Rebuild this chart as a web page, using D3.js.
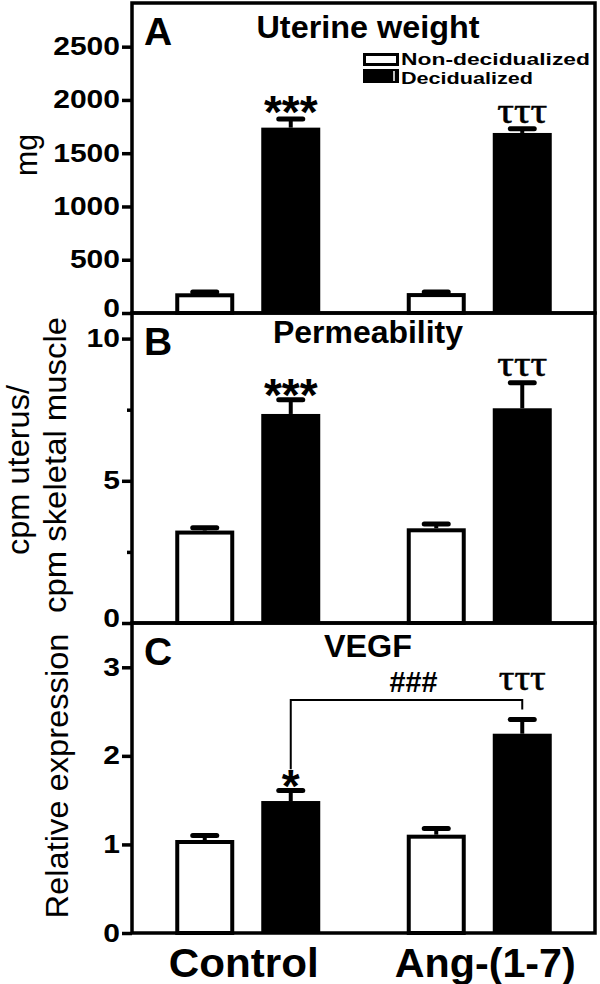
<!DOCTYPE html>
<html><head><meta charset="utf-8">
<script src="https://cdn.jsdelivr.net/npm/d3@7"></script>
<style>body{margin:0;background:#fff} svg{display:block}</style>
</head><body>
<script>
// ---------- data ----------
const groups = ["Control", "Ang-(1-7)"];
const series = ["Non-decidualized", "Decidualized"];

const weightNonDec = [185, 187];
const weightNonDecErr = [12, 10];
const weightDec = [1740, 1690];
const weightDecErr = [80, 40];

const permNonDec = [3.25, 3.33];
const permNonDecErr = [0.1, 0.15];
const permDec = [7.35, 7.55];
const permDecErr = [0.5, 0.9];

const vegfNonDec = [1.05, 1.11];
const vegfNonDecErr = [0.05, 0.07];
const vegfDec = [1.49, 2.25];
const vegfDecErr = [0.12, 0.16];

const weightTicks = [0, 500, 1000, 1500, 2000, 2500];
const permTicks = [0, 5, 10];
const permMinorTicks = [2.5, 7.5];
const vegfTicks = [0, 1, 2, 3];

const panelLetters = ["A", "B", "C"];
const panelTitles = ["Uterine weight", "Permeability", "VEGF"];
const sigWeight = ["***", "τττ"];
const sigPerm = ["***", "τττ"];
const sigVegf = ["*", "τττ"];
const bracketLabel = "###";
const bracketLevel = 2.63;

// ---------- layout ----------
const W = 600, H = 984;
const left = 132, right = 595;
const panelTop = [3, 313, 623];
const panelH = 310;
const SANS = "'Liberation Sans', Arial, sans-serif";
const SERIF = "'Liberation Serif', 'DejaVu Serif', serif";

const svg = d3.select("body").append("svg").attr("width", W).attr("height", H);

const gx = d3.scalePoint().domain(groups).range([left, right]).padding(0.5);
const sx = d3.scaleBand().domain(series).range([-72.5, 72.5]).paddingInner(0.314).paddingOuter(0);

const panels = [
  {max: 2910, ticks: weightTicks, minor: [], nd: weightNonDec, ndE: weightNonDecErr, d: weightDec, dE: weightDecErr, sig: sigWeight, starOff: 9, tauOff: 6},
  {max: 10.9, ticks: permTicks, minor: permMinorTicks, nd: permNonDec, ndE: permNonDecErr, d: permDec, dE: permDecErr, sig: sigPerm, starOff: 11, tauOff: 6.5},
  {max: 3.5, ticks: vegfTicks, minor: [], nd: vegfNonDec, ndE: vegfNonDecErr, d: vegfDec, dE: vegfDecErr, sig: sigVegf, starOff: 12, tauOff: 0}
];

function tau(g, x, y, len) {
  g.append("text").attr("x", x).attr("y", y)
    .attr("text-anchor", "middle").attr("font-family", SERIF)
    .attr("font-size", 36).attr("stroke", "#000").attr("stroke-width", 0.6)
    .attr("textLength", len).attr("lengthAdjust", "spacingAndGlyphs").text("τττ");
}

panels.forEach((p, i) => {
  const top = panelTop[i], bottom = top + panelH;
  const y = d3.scaleLinear().domain([0, p.max]).range([bottom, top]);
  const g = svg.append("g");

  // bars
  groups.forEach((grp, gi) => {
    const cx0 = gx(grp);
    const x0 = cx0 + sx(series[0]);
    const bw = sx.bandwidth();
    g.append("rect").attr("x", x0 + 2).attr("y", y(p.nd[gi]) + 2)
      .attr("width", bw - 4).attr("height", bottom - y(p.nd[gi]) - 2)
      .attr("fill", "#fff").attr("stroke", "#000").attr("stroke-width", 4);
    const x1 = cx0 + sx(series[1]);
    g.append("rect").attr("x", x1).attr("y", y(p.d[gi]))
      .attr("width", bw).attr("height", bottom - y(p.d[gi]))
      .attr("fill", "#000");

    [[x0, p.nd[gi], p.ndE[gi]], [x1, p.d[gi], p.dE[gi]]].forEach(([bx, v, e]) => {
      const c = bx + bw / 2;
      g.append("line").attr("x1", c).attr("x2", c).attr("y1", y(v)).attr("y2", y(v + e))
        .attr("stroke", "#000").attr("stroke-width", 4);
      g.append("line").attr("x1", c - 12).attr("x2", c + 12).attr("y1", y(v + e)).attr("y2", y(v + e))
        .attr("stroke", "#000").attr("stroke-width", 5).attr("stroke-linecap", "round");
    });
  });

  // significance marks
  const cCtl = gx(groups[0]) + sx(series[1]) + sx.bandwidth() / 2;
  const cAng = gx(groups[1]) + sx(series[1]) + sx.bandwidth() / 2;
  const capCtl = y(p.d[0] + p.dE[0]);
  const capAng = y(p.d[1] + p.dE[1]);
  g.append("text").attr("x", cCtl).attr("y", capCtl + p.starOff)
    .attr("text-anchor", "middle").attr("font-family", SANS).attr("font-weight", "bold")
    .attr("font-size", 46).text(p.sig[0]);

  if (i < 2) {
    tau(g, cAng, capAng - p.tauOff, 50);
  } else {
    const by = y(bracketLevel);
    const starTop = capCtl + p.starOff - 0.72 * 46;
    g.append("path")
      .attr("d", `M${cCtl},${starTop}V${by}H${cAng}V${capAng - 10}`)
      .attr("fill", "none").attr("stroke", "#000").attr("stroke-width", 2);
    tau(g, cAng, by - 10, 47);
    g.append("text").attr("x", (cCtl + cAng) / 2 + 7).attr("y", by - 8)
      .attr("text-anchor", "middle").attr("font-family", SANS).attr("font-weight", "bold")
      .attr("font-size", 30).attr("textLength", 48).attr("lengthAdjust", "spacingAndGlyphs").text(bracketLabel);
  }

  // frame
  g.append("rect").attr("x", left).attr("y", top).attr("width", right - left).attr("height", panelH)
    .attr("fill", "none").attr("stroke", "#000").attr("stroke-width", 3.5);

  // axis
  const ax = g.append("g").attr("transform", `translate(${left},0)`)
    .call(d3.axisLeft(y).tickValues(p.ticks).tickSize(10).tickPadding(2).tickFormat(d3.format("d")));
  ax.select(".domain").remove();
  ax.selectAll(".tick line").attr("stroke", "#000").attr("stroke-width", 3.5);
  ax.selectAll(".tick text").attr("font-family", SANS).attr("font-weight", "bold")
    .attr("font-size", 25).attr("fill", "#000")
    .attr("textLength", d => String(d).length * 16.7).attr("lengthAdjust", "spacingAndGlyphs");
  // the bottom "0" of the upper panels sits slightly raised, as in the original
  if (i < 2) ax.selectAll(".tick text").filter(d => d === 0).attr("y", -5);
  if (p.minor.length) {
    const mx = g.append("g").attr("transform", `translate(${left},0)`)
      .call(d3.axisLeft(y).tickValues(p.minor).tickSize(5).tickFormat(""));
    mx.select(".domain").remove();
    mx.selectAll(".tick line").attr("stroke", "#000").attr("stroke-width", 3.5);
  }

  // panel letter
  g.append("text").attr("x", 144).attr("y", top + 42).attr("font-family", SANS)
    .attr("font-weight", "bold").attr("font-size", 39).text(panelLetters[i]);
});

// titles
const titleW = [223, 190, 88];
const titleY = [38, 343, 657];
panelTitles.forEach((t, i) => {
  svg.append("text").attr("x", 368).attr("y", titleY[i]).attr("text-anchor", "middle")
    .attr("font-family", SANS).attr("font-weight", "bold").attr("font-size", 31)
    .attr("textLength", titleW[i]).attr("lengthAdjust", "spacingAndGlyphs").text(t);
});

// legend
const leg = svg.append("g");
leg.append("rect").attr("x", 364.5).attr("y", 54.5).attr("width", 33).attr("height", 10)
  .attr("fill", "#fff").attr("stroke", "#000").attr("stroke-width", 3);
leg.append("rect").attr("x", 363).attr("y", 69).attr("width", 36).attr("height", 14).attr("fill", "#000");
leg.append("line").attr("x1", 394).attr("x2", 394).attr("y1", 71).attr("y2", 81).attr("stroke", "#fff").attr("stroke-width", 1.5);
leg.append("text").attr("x", 401).attr("y", 65).attr("font-family", SANS).attr("font-weight", "bold")
  .attr("font-size", 17).attr("textLength", 189).attr("lengthAdjust", "spacingAndGlyphs").text(series[0]);
leg.append("text").attr("x", 401).attr("y", 84).attr("font-family", SANS).attr("font-weight", "bold")
  .attr("font-size", 17).attr("textLength", 132).attr("lengthAdjust", "spacingAndGlyphs").text(series[1]);

// y-axis titles
function yTitle(txt, x, cy, len) {
  svg.append("text").attr("transform", `translate(${x},${cy}) rotate(-90)`)
    .attr("text-anchor", "middle").attr("font-family", SANS).attr("font-size", 32)
    .attr("textLength", len).attr("lengthAdjust", "spacingAndGlyphs").text(txt);
}
yTitle("mg", 37, 155, 42);
yTitle("cpm uterus/", 29, 470, 170);
yTitle("cpm skeletal muscle", 66, 465, 296);
yTitle("Relative expression", 68, 776, 285);

// x-axis group labels
const xLabW = [150, 181];
groups.forEach((grp, i) => {
  svg.append("text").attr("x", gx(grp) + (i === 0 ? -4 : 6)).attr("y", 977).attr("text-anchor", "middle")
    .attr("font-family", SANS).attr("font-weight", "bold").attr("font-size", 40)
    .attr("textLength", xLabW[i]).attr("lengthAdjust", "spacingAndGlyphs").text(grp);
});
</script>
</body></html>
